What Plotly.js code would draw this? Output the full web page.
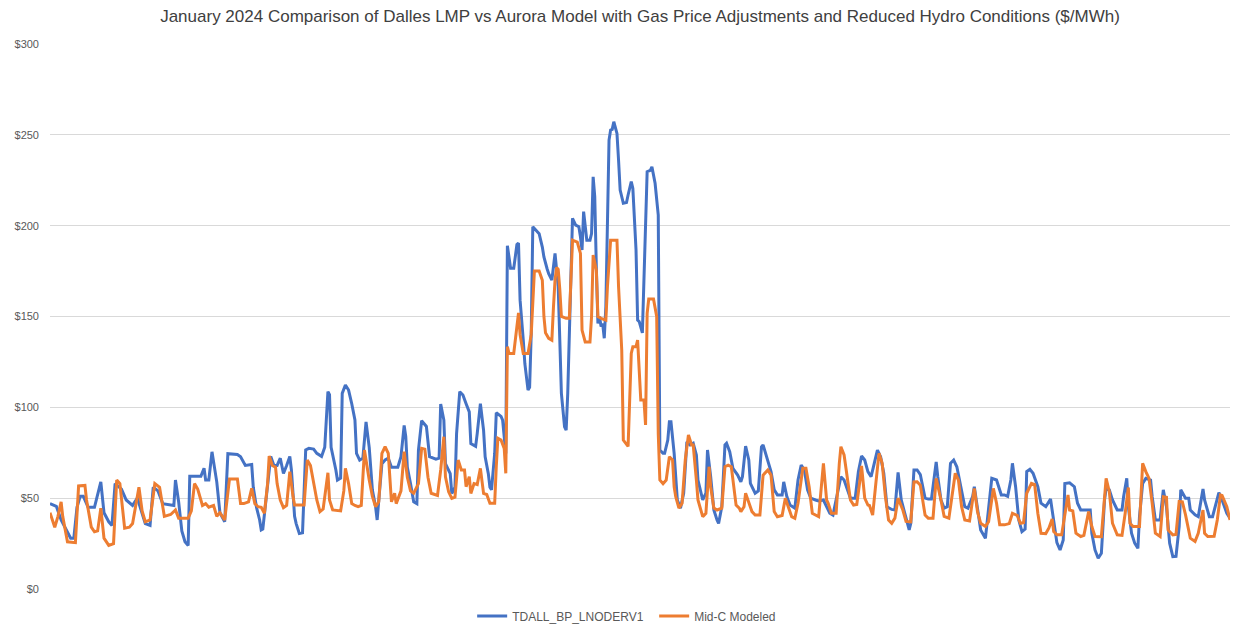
<!DOCTYPE html>
<html>
<head>
<meta charset="utf-8">
<script src="https://cdn.plot.ly/plotly-3.0.1.min.js"></script>
<style>
  html, body { margin: 0; padding: 0; background: #ffffff; }
  #chart { width: 1243px; height: 635px; }
</style>
</head>
<body>
<div id="chart"></div>
<script>
// Hour of month (0 = Jan 1 00:00, 743 = Jan 31 23:00) at which each value was read
const blueHours = [0,4,7,11,13,15,17,19,21,24,28,32,34,37,39,41,45,48,52,55,60,63,65,68,71,78,79,81,83,85,87,88,95,97,98,100,102,105,107,110,112,118,120,123,127,128,130,132,133,134,137,139,141,143,145,146,147,149,151,152,154,155,157,159,161,163,166,168,171,173,175,176,177,180,181,183,184,186,188,190,192,193,195,197,199,201,203,205,206,207,209,211,213,215,219,221,223,224,225,227,229,231,232,234,237,239,243,245,246,248,249,252,253,255,256,258,260,262,264,265,268,269,271,273,274,276,277,278,280,281,284,285,286,287,288,290,292,294,295,296,298,299,301,302,303,304,306,308,310,311,313,314,316,318,320,321,322,324,325,326,328,329,331,333,334,335,336,338,340,341,342,343,344,345,346,347,348,349,350,352,353,354,355,357,358,359,361,363,364,366,367,369,370,371,373,374,376,378,379,381,383,384,386,387,389,390,391,393,394,395,397,399,401,403,405,407,408,411,413,414,416,418,420,421,423,425,426,428,430,433,435,436,438,440,441,444,446,448,449,452,454,456,458,461,462,464,466,469,471,473,475,477,479,482,484,487,489,491,493,496,498,500,502,504,507,509,511,513,515,517,519,521,523,525,527,530,532,534,536,539,541,542,544,546,548,551,553,555,558,559,561,563,565,567,569,571,573,576,578,581,582,584,586,589,591,593,596,599,601,603,605,606,608,610,612,614,615,617,619,622,624,627,630,632,634,636,638,639,642,645,647,649,653,655,656,658,660,662,664,665,667,669,672,675,676,678,679,681,683,685,686,688,690,693,694,696,699,701,703,705,707,709,711,712,715,717,718,721,723,726,727,730,732,734,736,738,741,743];
const blueValues = [47,45.5,38,31,28,28,45,51,51,45,45,59,42,37,35,58,55,49,46,50,36,35,56,54,47,46,60,48,32,26,24,62,62,66.5,60,60,75.5,59,42,37,74.5,74,72.8,68,68.5,56,45,38,32.5,33,58,73,68,68,72,67,63.6,68,73,65.5,40,36,30.6,31,76.5,77.4,77,74.7,73,78,108.6,107,78,65.5,60,61,107.7,112.3,109.5,102,93,74.7,71,72,92,78,54.5,45.3,38,48.6,69,71,72,67,67,72.8,90,84,67,58,48,47,76.5,92.6,89.5,72.8,71.5,72,101.8,93,69,63.5,52.6,56,85.5,108.6,106.8,102,97.5,80,78.5,85.5,102,87.4,72.8,63.5,56,54.6,74.6,97,95,93,85.5,74.6,189,176.5,176.5,189.6,190.5,159,137,124,109.5,111,140.4,199.4,197.5,195.6,188.2,182.8,176.3,173.6,170,184.7,166.4,135,107.7,89.3,87.4,107.7,177.4,204,200.3,199.4,193.9,186.6,207.7,192,192,195.6,226.9,216,177.4,146.2,150,144.5,146,138,155.4,247.1,252.6,253,257.2,250.8,236,219.6,212.3,212.7,216.9,224.2,220.5,186.6,148,147.2,141,168.2,229.7,230.5,232.4,223.3,205.8,76.5,74.7,74.7,82,92,92,74.7,61.8,49,44.5,52.7,81,79.3,80.2,73.8,60,49,52.7,76.5,61.8,43.5,38,36.1,45.3,79.3,80.2,75.6,66.4,62.7,59,61.8,78.7,71,58.1,52.7,54,78.3,79.3,71,64.6,54.6,51.8,51.8,59,50.8,46.2,44.5,60,68.2,65.5,54.6,50,49,48.5,49,45.3,41.7,40.7,52.7,61.8,60,55.4,50,50,64.6,73.2,71,64.6,61.8,69.2,76.5,72.8,63.7,45.3,43.8,43.5,64.2,49,39.8,32.5,36.2,65.5,65.5,63,50,49.5,49.5,70,61.8,49,44.5,45.3,69.2,71,67.3,58.1,45.3,44.5,51,56.3,44,32.5,27.9,45.3,60.9,60,51.8,51.8,51,60,69.2,56.3,38,31.6,33,64.6,65.9,63.7,56.3,47.2,45.3,49.5,37,25.5,21.5,27,58.1,58.5,56.3,47.2,43.5,43.5,43.5,30.7,21.5,16.9,19.6,49,55.4,54.6,49,43.5,43.5,50.8,60.9,45.3,30.7,25.2,22.4,39.8,58.1,60.9,60,50.8,38,38,54.6,45.3,25.2,17.8,18,34.4,54.6,50,50,43.5,40.8,39.8,55,49,39.8,39.8,47.2,53,49,41.7,39];

const orangeHours = [0,3,5,7,8,11,16,18,22,23,26,28,30,32,34,37,40,42,44,47,50,52,56,58,60,63,66,69,72,76,79,81,87,89,91,93,96,98,100,103,105,107,110,113,118,120,122,125,127,129,131,133,135,137,138,140,142,143,145,147,149,151,153,154,160,162,164,166,168,170,172,175,176,178,183,185,186,188,190,192,194,196,198,201,203,205,207,209,211,213,215,217,218,221,223,225,227,229,232,234,236,238,240,244,246,248,249,251,253,255,257,259,261,262,264,265,267,269,271,273,275,277,280,281,282,284,286,287,288,289,292,295,296,298,301,303,305,308,310,311,312,314,316,317,318,319,320,321,322,325,327,328,329,332,334,335,337,340,341,342,344,345,347,350,351,353,357,358,360,361,364,365,366,367,369,370,372,374,375,376,377,380,382,383,384,386,388,390,392,393,394,396,398,400,402,404,405,407,408,411,413,415,416,418,420,423,425,427,429,432,434,435,437,438,440,442,444,447,449,452,454,456,458,461,463,465,467,469,471,474,476,478,480,484,487,489,490,492,495,497,498,500,502,504,506,508,510,511,513,515,516,518,520,522,524,526,528,530,532,534,537,539,542,544,546,548,551,553,556,558,561,563,566,569,570,572,574,576,579,582,584,586,589,591,594,596,598,601,604,606,609,611,613,615,618,620,622,624,627,629,631,632,634,637,639,641,642,644,646,649,651,653,654,656,658,662,664,665,667,669,672,675,677,679,680,682,686,687,688,690,692,694,696,699,701,703,704,707,709,711,713,715,718,721,723,726,727,729,733,735,737,738,741,743];
const orangeValues = [42,34,40,48,40,26,25.5,56.7,57,49,34,31.5,32,44.5,28,24,25,60,58,33.5,34,36,56,43,37,38,58,56,40,41,43.5,39,39,43,58,55,46,47,45,46,40,42,38,60.5,60.5,47,47,48,55.4,47,45.3,45,41.6,58,73.2,68,67,58,49,44.8,46,64.6,51,46.2,46.2,71,68,58,49,42.6,44,64,49,43.5,43,54,66.4,58,47,46,45.3,46,76.5,60,51,45.3,48,74.7,78.3,74.7,48,52.7,47,54,75.6,61.5,54,52.7,58,77.4,77,61.5,52.7,51.5,65.5,83.8,61.8,53.5,49.9,50.5,71,65.5,65.5,56.3,61.8,52.6,58,57.5,66.4,52.6,52,47.2,47.2,67.3,83,82,77.4,63.7,133.4,129.7,129.7,152,140,129.7,129.7,140,175,175,170,150,141,138,137,155,170,177,176,165,150,149,149,170,192,191,184.7,142.5,136,136,150,183.8,175.5,150,149,148,166.4,192,192,166.4,131.6,82,78.5,104,129.7,133.4,133.4,137,104,104,90.3,151.7,159.6,159.6,150,85.5,60,58,60,72.8,71,56.3,50.8,44.5,47.2,71,84.8,79.3,79.3,60,49,39.8,41.7,67.3,56.3,44.5,43.5,44.5,67.3,68.2,67.3,46.2,44.5,42.6,45.3,52.7,47.2,42.6,40.7,40.7,62.7,65.5,62.7,42.6,39.8,40.5,50,44.5,39.8,38.9,47.2,66.4,66.4,56.3,41.7,39.8,69.2,49,47.2,41.7,41.7,69.2,78.3,73.8,62.7,49,46.2,46.5,60,67.7,50,46.2,46,40.7,58.1,74.7,69.2,51,38,36.2,39,50,43.5,37.2,37,58.9,59,57.2,40.7,39,39,60.9,49,40,39,58.1,63.7,60,45.3,38,37.5,55.4,42.6,36.2,34.4,37,55.4,47.2,35.3,35.3,36,41.7,40.5,36.2,36.5,52.7,58.1,57.5,41.7,30.7,30.5,33.6,38.5,31.6,29.8,29.8,41.7,51.8,43.5,43,30.7,28.9,29.5,37.2,42.6,34.4,28.9,28.8,49,60.9,53.6,36.2,29.8,29.5,41.7,55.9,36.2,34.4,34.4,49,69.2,64.6,60.9,47.2,30.7,28.9,50.8,50.5,32.5,29.8,30,48.2,48,40.8,28,26.2,30.7,43.5,30.7,28.9,29,38,51.8,51.5,45.3,38];

const seriesNames = ["TDALL_BP_LNODERV1", "Mid-C Modeled"];
const yTickValues = [0, 50, 100, 150, 200, 250, 300];
const yTickLabels = ["$0", "$50", "$100", "$150", "$200", "$250", "$300"];
const chartTitle = "January 2024 Comparison of Dalles LMP vs Aurora Model with Gas Price Adjustments and Reduced Hydro Conditions ($/MWh)";

const traces = [
  {
    x: blueHours, y: blueValues, name: seriesNames[0], type: "scatter", mode: "lines",
    line: { color: "#4472C4", width: 3 }, hoverinfo: "skip"
  },
  {
    x: orangeHours, y: orangeValues, name: seriesNames[1], type: "scatter", mode: "lines",
    line: { color: "#ED7D31", width: 3 }, hoverinfo: "skip"
  }
];

const layout = {
  width: 1243, height: 635,
  paper_bgcolor: "#ffffff", plot_bgcolor: "#ffffff",
  margin: { l: 50, r: 13, t: 44, b: 46, pad: 0, autoexpand: false },
  font: { family: "Liberation Sans, Arial, sans-serif", color: "#595959", size: 12 },
  title: {
    text: chartTitle,
    font: { family: "Liberation Sans, Arial, sans-serif", size: 17, color: "#404040" },
    x: 0.5, xanchor: "center", y: 0.975, yanchor: "middle", xref: "paper"
  },
  xaxis: {
    range: [0, 743], showticklabels: false, showgrid: false, zeroline: false,
    showline: false, ticks: "", fixedrange: true
  },
  yaxis: {
    range: [0, 300], tickvals: yTickValues, ticktext: yTickLabels,
    showgrid: true, gridcolor: "#d9d9d9", gridwidth: 1, zeroline: false,
    showline: false, ticks: "", ticklabelstandoff: 10,
    tickfont: { size: 11, color: "#595959" }, fixedrange: true
  },
  showlegend: true,
  legend: {
    orientation: "h", x: 0.512, xanchor: "center", xref: "paper",
    yref: "container", y: 0.03, yanchor: "middle",
    font: { size: 12, color: "#595959" }, itemwidth: 30, entrywidth: 137,
    tracegroupgap: 0, bgcolor: "rgba(0,0,0,0)"
  },
  hovermode: false
};

Plotly.newPlot("chart", traces, layout, { displayModeBar: false, staticPlot: true });
</script>
</body>
</html>
